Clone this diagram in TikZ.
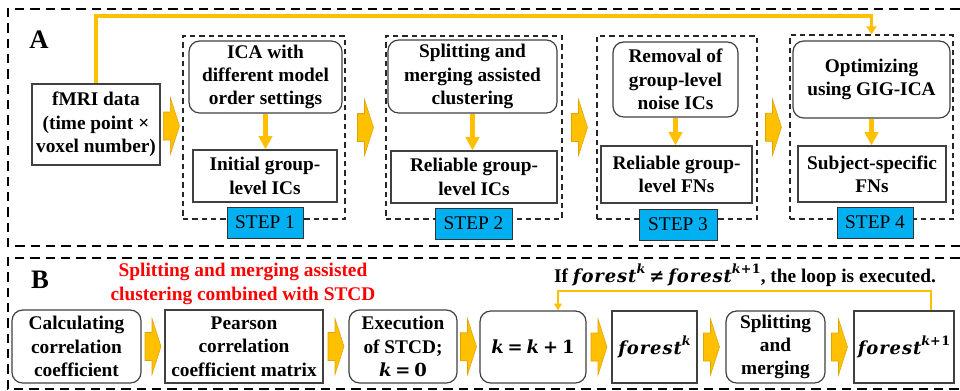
\documentclass[tikz,border=0pt]{standalone}
\usepackage{fontspec}
\setmainfont{Liberation Serif}
\newfontfamily\mathface{DejaVu Serif}[LetterSpace=5]
\usetikzlibrary{arrows.meta,calc}

% formula pieces: bold italic variables, bold upright operators, raised indices
\newcommand\mvar[1]{{\mathface\bfseries\itshape #1}}
\newcommand\mop[1]{{\mathface\bfseries #1}}
\newcommand\msup[1]{\raisebox{0.5em}{\fontsize{9.5}{10}\selectfont #1}}
\newcommand\msp{\hspace{0.22em}}

\definecolor{arrowor}{HTML}{FFC000}
\definecolor{arrowedge}{HTML}{E0A400}
\definecolor{stepblue}{HTML}{00B0F0}
\definecolor{boxline}{HTML}{404040}

\begin{document}
\begin{tikzpicture}[x=0.75pt,y=-0.75pt,
  every node/.style={font=\bfseries\fontsize{14.5}{17.5}\selectfont, align=center, inner sep=0pt},
  size/.style 2 args={minimum width=#1*0.75pt, minimum height=#2*0.75pt},
  formula/.style={font=\fontsize{13.5}{16}\selectfont},
  panel/.style={draw=black, line width=1.9pt, dash pattern=on 7pt off 4.5pt},
  stepframe/.style={draw=black!85, line width=1pt, dash pattern=on 4pt off 3pt},
  plainbox/.style={draw=boxline, line width=0.9pt, fill=white},
  roundbox/.style={plainbox, rounded corners=8pt},
  steptag/.style={draw=black!80, line width=0.6pt, fill=stepblue, font=\fontsize{14.5}{16}\selectfont},
  panellabel/.style={font=\bfseries\fontsize{20}{20}\selectfont},
  flow/.style={draw=arrowor, line width=3.7pt, -{Triangle[width=10pt,length=10pt]}},
  feedback/.style={draw=arrowor, line width=2.5pt, -{Triangle[width=7.5pt,length=6pt]}},
  loopback/.style={draw=arrowor, line width=2pt, -{Triangle[width=5.5pt,length=5pt]}},
  pics/blockarr/.style={code={
    \draw[fill=arrowor, draw=arrowedge, line width=0.4pt]
      (-8,-14) -- (-1,-14) -- (-1,-28) -- (8,0) -- (-1,28) -- (-1,14) -- (-8,14) -- cycle;}}
]
\useasboundingbox (0,0) rectangle (960,390);

% ---------- panel A ----------
\draw[panel] (975,9) -- (8,9) -- (8,246) -- (975,246);
\node[panellabel] (labA) at (39,40) {A};

\node[plainbox, size={128}{81}] (fmri) at (96,124.5) {fMRI data\\(time point ×\\voxel number)};

% step frames
\node[stepframe, size={162}{183}] (s1) at (264,127.5) {};
\node[stepframe, size={176}{183}] (s2) at (474,127.5) {};
\node[stepframe, size={160}{183}] (s3) at (677,127.5) {};
\node[stepframe, size={163}{184}] (s4) at (871.5,127) {};

% step 1
\node[roundbox, size={153}{72}] (ica) at (265.5,77) {ICA with\\different model\\order settings};
\node[plainbox, size={144}{52}] (init) at (265,176) {Initial group-\\level ICs};
\node[steptag, size={76}{31}] (t1) at (265,222.5) {STEP 1};
% step 2
\node[roundbox, size={169}{73}] (split) at (472.5,76.5) {Splitting and\\merging assisted\\clustering};
\node[plainbox, size={166}{52}] (relic) at (474,177) {Reliable group-\\level ICs};
\node[steptag, size={77}{31}] (t2) at (473.5,223.5) {STEP 2};
% step 3
\node[roundbox, size={125}{75}] (removal) at (675.5,79.5) {Removal of\\group-level\\noise ICs};
\node[plainbox, size={151}{57}] (relfn) at (676.5,174.5) {Reliable group-\\level FNs};
\node[steptag, size={78}{31}] (t3) at (678,224.5) {STEP 3};
% step 4
\node[roundbox, size={157}{77}] (optim) at (871.5,79.5) {Optimizing\\using GIG-ICA};
\node[plainbox, size={148}{56}] (subj) at (872,174) {Subject-specific\\FNs};
\node[steptag, size={76}{31}] (t4) at (875,222.5) {STEP 4};

% arrows inside the steps
\draw[flow] (ica.south) -- (ica.south |- init.north);
\draw[flow] (split.south) -- (split.south |- relic.north);
\draw[flow] (removal.south) -- (removal.south |- relfn.north);
\draw[flow] (optim.south) -- (optim.south |- subj.north);

% block arrows between the steps
\pic (ba1) at ($(fmri.east)!0.5!(s1.west)$) {blockarr};
\pic (ba2) at ($(s1.east)!0.5!(s2.west)$) {blockarr};
\pic (ba3) at ($(s2.east)!0.5!(s3.west)$) {blockarr};
\pic (ba4) at ($(s3.east)!0.5!(s4.west)$) {blockarr};

% data fed straight to step 4
\coordinate (topy) at (0,16);
\draw[feedback] (fmri.north) -- (fmri.north |- topy) -| (s4.north);

% ---------- panel B ----------
\draw[panel] (975,258) -- (8,258) -- (8,389) -- (975,389);
\node[panellabel] (labB) at (40,280) {B};
\node[text=red] (title) at (243,284) {Splitting and merging assisted\\clustering combined with STCD};

\node[roundbox, size={129}{73}] (calc) at (76.5,346.5) {Calculating\\correlation\\coefficient};
\node[plainbox, size={158}{73}] (pearson) at (244,346.5) {Pearson\\correlation\\coefficient matrix};
\node[roundbox, size={108}{73}] (exec) at (403,346.5)
  {Execution\\of STCD;\\{\fontsize{13.5}{16}\selectfont\mvar{k}\msp\mop{=}\msp\mop{0}}};
\node[roundbox, formula, size={106}{72}] (kk) at (533,347)
  {\mvar{k}\msp\mop{=}\msp\mvar{k}\msp\mop{+}\msp\mop{1}};
\node[plainbox, formula, size={85}{72}] (fk) at (654.5,347) {\mvar{forest}\msup{\mvar{k}}};
\node[roundbox, size={99}{72}] (sm) at (775.5,347) {Splitting\\and\\merging};
\node[plainbox, formula, size={100}{72}] (fk1) at (904,347) {\mvar{forest}\msup{\mvar{k}\mop{+1}}};

\pic (bb1) at ($(calc.east)!0.5!(pearson.west)$) {blockarr};
\pic (bb2) at ($(pearson.east)!0.5!(exec.west)$) {blockarr};
\pic (bb3) at ($(exec.east)!0.5!(kk.west)$) {blockarr};
\pic (bb4) at ($(kk.east)!0.5!(fk.west)$) {blockarr};
\pic (bb5) at ($(fk.east)!0.5!(sm.west)$) {blockarr};
\pic (bb6) at ($(sm.east)!0.5!(fk1.west)$) {blockarr};

% loop back to the counter
\node (cond) at (745,275) {If {\fontsize{13.5}{16}\selectfont\mvar{forest}\msup{\mvar{k}}\msp\mop{≠}\msp\mvar{forest}\msup{\mvar{k}\mop{+1}}}, the loop is executed.};
\coordinate (loopy) at (0,291);
\coordinate (fkout) at ([shift={(27,0)}]fk1.north);
\coordinate (kkin) at ([shift={(25,0)}]kk.north);
\draw[loopback] (fkout) |- (kkin |- loopy) -- (kkin);
\end{tikzpicture}
\end{document}
